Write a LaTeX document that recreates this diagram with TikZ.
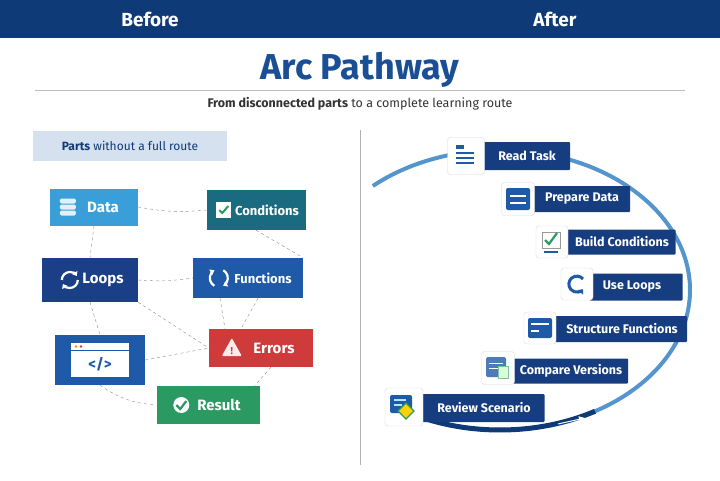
\documentclass[tikz,border=0pt]{standalone}
\usepackage{fontspec}
\setmainfont{Fira Sans}
\usetikzlibrary{positioning,calc,arrows.meta}
\definecolor{navy}{HTML}{0F3A78}
\definecolor{stepblue}{HTML}{163D80}
\definecolor{titleblue}{HTML}{1A4F96}
\definecolor{tagfill}{HTML}{D5E1EE}
\definecolor{datablue}{HTML}{3A9FD8}
\definecolor{condteal}{HTML}{1A6A80}
\definecolor{loopblue}{HTML}{1A3F86}
\definecolor{funcblue}{HTML}{1F5AA8}
\definecolor{errred}{HTML}{CF3A3A}
\definecolor{resgreen}{HTML}{2A9A62}
\definecolor{arcblue}{HTML}{2A7BC0}
\tikzset{
  part/.style={fill=#1, text=white, font=\fontsize{15}{17}\selectfont\bfseries,
    minimum height=38pt, inner sep=0pt},
  stepbox/.style={fill=stepblue, text=white, font=\fontsize{12.5}{14}\selectfont\bfseries,
    minimum height=26pt, inner sep=0pt, rounded corners=1pt},
  icontile/.style={fill=white, draw=black!15, minimum size=34pt, rounded corners=3pt,
    inner sep=0pt},
  link/.style={dashed, draw=black!45, thin},
}
\begin{document}
\begin{tikzpicture}[x=1pt,y=-1pt]
  \useasboundingbox (0,0) rectangle (720,480);
  \fill[white] (0,0) rectangle (720,480);
  % header band
  \fill[navy] (0,0) rectangle (720,38);
  \node[text=white, font=\fontsize{19}{21}\selectfont\bfseries] (before) at (150,19) {Before};
  \node[text=white, font=\fontsize{19}{21}\selectfont\bfseries] (after) at (555,19) {After};
  \node[text=titleblue, font=\fontsize{36}{38}\selectfont\bfseries] (title) at (360,70) {Arc Pathway};
  \draw[black!25] (35,90) -- (685,90);
  \node[text=black!80, font=\fontsize{12.5}{14}\selectfont] (sub) at (360,104)
    {\textbf{From disconnected parts} to a complete learning route};
  \draw[black!30] (360,130) -- (360,465);

  % before: loose parts
  \node[fill=tagfill, text=navy, minimum width=194pt, minimum height=30pt,
    font=\fontsize{12}{14}\selectfont] (tag) at (130,146) {\textbf{Parts} without a full route};
  \node[part=datablue, minimum width=88pt, minimum height=37pt] (data) at (94,207) {\hspace*{18pt}Data};
  \node[part=condteal, minimum width=99pt, minimum height=40pt, font=\fontsize{13}{15}\selectfont\bfseries] (cond) at (256,210) {\hspace*{22pt}Conditions};
  \node[part=loopblue, minimum width=96pt, minimum height=44pt] (loops) at (90,280) {\hspace*{26pt}Loops};
  \node[part=funcblue, minimum width=110pt, minimum height=40pt, font=\fontsize{13}{15}\selectfont\bfseries] (func) at (248,278) {\hspace*{30pt}Functions};
  \node[part=funcblue, minimum width=90pt, minimum height=50pt] (code) at (100,360) {};
  \node[part=errred, minimum width=104pt, minimum height=38pt] (err) at (261,348) {\hspace*{26pt}Errors};
  \node[part=resgreen, minimum width=103pt, minimum height=38pt] (res) at (208,405) {\hspace*{22pt}Result};

  % icons on the parts
  \foreach \dy in {-6,0,6}
    \fill[white!85!datablue, rounded corners=1.5pt] ($(data.west)+(10,\dy-2.5)$) rectangle +(16,5);
  \fill[white] ($(cond.west)+(10,-8)$) rectangle +(15,16);
  \draw[resgreen, line width=2pt] ($(cond.west)+(13,0)$) -- +(3,3) -- +(9,-4);
  \draw[white, line width=2.2pt, -{Triangle[length=4pt,width=6pt]}] ($(loops.west)+(36,0)$) arc (0:150:8);
  \draw[white, line width=2.2pt, -{Triangle[length=4pt,width=6pt]}] ($(loops.west)+(20,0)$) arc (180:330:8);
  \draw[white, line width=2.2pt, -{Triangle[length=4pt,width=6pt]}] ($(func.west)+(26,0)$) ++(120:9) arc (120:240:9);
  \draw[white, line width=2.2pt, -{Triangle[length=4pt,width=6pt]}] ($(func.west)+(26,0)$) ++(-60:9) arc (-60:60:9);
  \fill[white] ($(code.center)+(-29,-17)$) rectangle +(58,34);
  \draw[funcblue] ($(code.center)+(-29,-10)$) -- +(58,0);
  \fill[orange] ($(code.center)+(-24,-13.5)$) circle (1.3pt);
  \fill[errred] ($(code.center)+(-19,-13.5)$) circle (1.3pt);
  \node[text=funcblue, font=\fontsize{15}{16}\selectfont\bfseries] (codetxt) at ($(code.center)+(0,4)$) {</>};
  \fill[white!90!errred, rounded corners=1pt] ($(err.west)+(13,8)$) -- +(10,-18) -- +(20,0) -- cycle;
  \node[text=errred, font=\fontsize{10}{10}\selectfont\bfseries] (bang) at ($(err.west)+(23,3)$) {!};
  \fill[white] ($(res.west)+(25,0)$) circle (8pt);
  \draw[resgreen, line width=2.2pt] ($(res.west)+(20,0)$) -- +(4,4) -- +(10,-4);

  % loose dashed links
  \draw[link] (data.east) to[bend right=8] (cond.west);
  \draw[link] (data.south) -- (loops.north);
  \draw[link] (cond.south) -- (func.north east);
  \draw[link] (loops.east) to[bend right=6] (func.west);
  \draw[link] (loops.south) -- (code.north);
  \draw[link] (loops.south east) -- (err.west);
  \draw[link] ($(func.south)+(-28,0)$) -- ($(err.north)+(-36,0)$);
  \draw[link] ($(func.south)+(10,0)$) -- ($(err.north)+(-20,0)$);
  \draw[link] (code.east) -- (err.west);
  \draw[link] (code.south) to[bend right=15] (res.west);
  \draw[link] ($(err.south)+(10,0)$) -- ($(res.north east)+(-5,0)$);

  % after: the arc route
  \draw[arcblue!80, line width=4pt] (500,290) ++(-132:190 and 140) arc (-132:118:190 and 140);
  \draw[navy, line width=5pt] (500,290) ++(60:190 and 140) arc (60:118:190 and 140);
  \draw[white, line width=1pt, -{Triangle[length=6pt,width=6pt]}] (558,424) -- (585,418);

  \node[stepbox, minimum width=90pt, minimum height=28pt] (s1) at (525,156) {\hspace*{4pt}Read Task};
  \node[stepbox, minimum width=100pt] (s2) at (580,199) {\hspace*{4pt}Prepare Data};
  \node[stepbox, minimum width=111pt, minimum height=25pt] (s3) at (620,242) {\hspace*{4pt}Build Conditions};
  \node[stepbox, minimum width=93pt, minimum height=27pt] (s4) at (636,287) {\hspace*{-8pt}Use Loops};
  \node[stepbox, minimum width=134pt] (s5) at (620,329) {\hspace*{4pt}Structure Functions};
  \node[stepbox, minimum width=118pt, minimum height=25pt] (s6) at (569,371) {\hspace*{4pt}Compare Versions};
  \node[stepbox, minimum width=125pt, minimum height=28pt] (s7) at (482,408) {\hspace*{4pt}Review Scenario};

  \node[icontile, minimum size=37pt] (i1) at (466,156) {};
  \node[icontile, minimum size=33pt] (i2) at (518,199) {};
  \node[icontile, minimum size=32pt] (i3) at (552,242) {};
  \node[icontile, minimum size=32pt] (i4) at (577,284) {};
  \node[icontile, minimum size=32pt] (i5) at (540,328) {};
  \node[icontile, minimum size=33pt] (i6) at (498,368) {};
  \node[icontile, minimum size=38pt] (i7) at (404,407) {};

  % icon glyphs
  \fill[funcblue] ($(i1.center)+(-10,-11)$) rectangle +(8,4);
  \foreach \dy in {-3,2,7}
    \draw[funcblue, line width=1.4pt] ($(i1.center)+(-10,\dy)$) -- +(18,0);
  \fill[funcblue, rounded corners=2pt] ($(i2.center)+(-12,-11)$) rectangle +(24,22);
  \draw[white, line width=1.4pt] ($(i2.center)+(-8,-3)$) -- +(16,0) ($(i2.center)+(-8,4)$) -- +(16,0);
  \draw[black!40] ($(i3.center)+(-10,-10)$) rectangle +(18,16);
  \draw[resgreen, line width=2.2pt] ($(i3.center)+(-7,-2)$) -- +(4,4) -- +(12,-7);
  \draw[funcblue, line width=1.2pt] ($(i3.center)+(-8,10)$) -- +(14,0);
  \draw[funcblue, line width=3pt, -{Triangle[length=4pt,width=7pt]}] ($(i4.center)+(6,-5)$) arc (-40:-320:8);
  \fill[funcblue, rounded corners=2pt] ($(i5.center)+(-12,-10)$) rectangle +(24,20);
  \draw[white, line width=1.2pt] ($(i5.center)+(-9,-4)$) -- +(18,0) ($(i5.center)+(-9,3)$) -- +(8,0);
  \fill[funcblue!80, rounded corners=1.5pt] ($(i6.center)+(-12,-11)$) rectangle +(20,20);
  \draw[white, line width=1pt] ($(i6.center)+(-9,-5)$) -- +(14,0) ($(i6.center)+(-9,0)$) -- +(14,0);
  \fill[green!15, draw=resgreen!60] ($(i6.center)+(0,-2)$) rectangle +(10,12);
  \fill[funcblue, rounded corners=2pt] ($(i7.center)+(-14,-12)$) rectangle +(22,18);
  \draw[white!70!cyan, line width=1.4pt] ($(i7.center)+(-10,-7)$) -- +(12,0) ($(i7.center)+(-10,-2)$) -- +(8,0);
  \fill[yellow!70!orange, draw=resgreen, line width=1.2pt] ($(i7.center)+(2,-4)$) -- +(8,8) -- +(0,16) -- +(-8,8) -- cycle;
\end{tikzpicture}
\end{document}
